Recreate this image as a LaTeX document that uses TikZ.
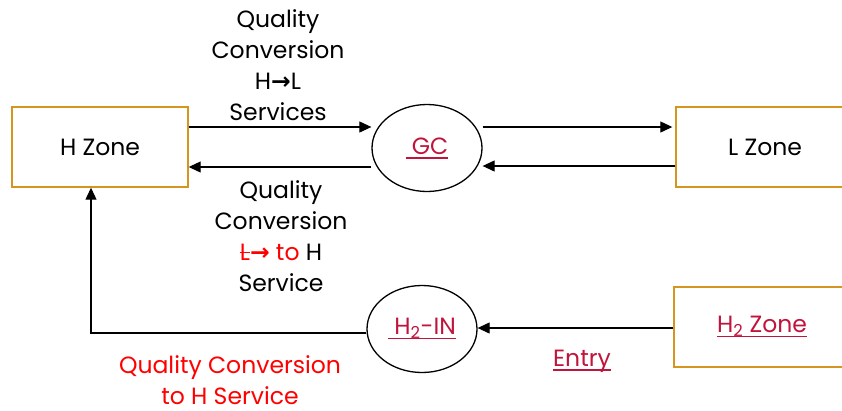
\documentclass[tikz,border=0pt]{standalone}
\usepackage{fontspec}
\setmainfont{Poppins}
\newfontfamily\symf{DejaVu Sans}
\usetikzlibrary{shapes.geometric,arrows.meta,calc}
\definecolor{gold}{RGB}{212,150,30}
\definecolor{dred}{RGB}{192,20,60}
\definecolor{rred}{RGB}{255,0,0}
\newcommand{\arr}{{\symf\bfseries →}}
\newcommand{\myul}[1]{\setbox0\hbox{#1}\rlap{\raisebox{-4.5pt}{\rule{\wd0}{1.5pt}}}\box0}
\newcommand{\mystrike}[1]{\setbox0\hbox{#1}\rlap{\raisebox{0.3em}{\rule{\wd0}{1.2pt}}}\box0}
\tikzset{
  zone/.style={draw=gold, line width=1.4pt, minimum height=80pt, inner sep=0pt, font=\fontsize{23.5}{27}\selectfont},
  conv/.style={draw=black, ellipse, line width=1.3pt, minimum width=110pt, minimum height=87pt, inner sep=0pt, font=\fontsize{23.5}{27}\selectfont},
  lbl/.style={align=center, font=\fontsize{23.5}{31}\selectfont, inner sep=0pt},
  flow/.style={line width=1.1pt, -{Triangle[length=12pt,width=11pt]}}
}
\begin{document}
\begin{tikzpicture}[x=1pt,y=-1pt]
\useasboundingbox (0,0) rectangle (842,410);
\node[zone, minimum width=176pt] (hz) at (100,147) {H Zone};
\node[zone, minimum width=178pt] (lz) at (765,147) {L Zone};
\node[zone, minimum width=176pt] (h2z) at (762,327) {\color{dred}\myul{H\textsubscript{2} Zone}};
\node[conv] (gc) at (427,148) {\color{dred}\myul{\ GC}};
\node[conv] (h2in) at (422,329) {\color{dred}\myul{\ H\textsubscript{2}-IN}};
\node[lbl] (t1) at (278,65) {Quality\\Conversion\\H\arr L\\Services};
\node[lbl] (t2) at (281,236) {Quality\\Conversion\\{\color{rred}\mystrike{L}\arr{} to} H\\Service};
\node[lbl, text=rred] (t3) at (230,380) {Quality Conversion\\to H Service};
\node[lbl, text=dred] (t4) at (582,361) {\myul{Entry}};
\coordinate (bend) at (91,333);
\draw[flow] ([yshift=20pt]hz.east) -- ([yshift=20pt]hz.east -| gc.west);
\draw[flow] ([yshift=-19pt]gc.west) -- ([yshift=-19pt]gc.west -| hz.east);
\draw[flow, shorten >=3pt] ([yshift=21pt]gc.east) -- ([yshift=21pt]gc.east -| lz.west);
\draw[flow] ([yshift=-19pt]lz.west) -- ([yshift=-19pt]lz.west -| gc.east);
\draw[flow] ([yshift=-1pt]h2z.west) -- ([yshift=-1pt]h2z.west -| h2in.east);
\draw[flow] (h2in.west |- bend) -- (bend) -- (bend |- hz.south);
\end{tikzpicture}
\end{document}
